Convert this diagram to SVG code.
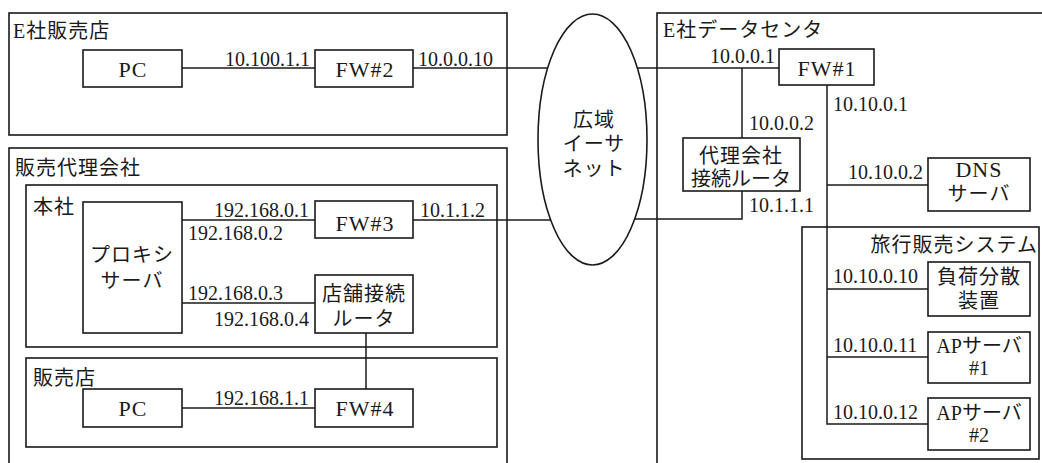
<svg xmlns="http://www.w3.org/2000/svg" width="1042" height="463" viewBox="0 0 1042 463">
<style>
text{font-family:"Liberation Serif","Noto Sans CJK JP",serif;font-size:20px;fill:#1a1a1a}
.c{text-anchor:middle}
.e{text-anchor:end}
.j{letter-spacing:1px}
.L{font-size:22px;letter-spacing:1px}
.box{fill:#fff;stroke:#1a1a1a;stroke-width:1.6}
.area{fill:none;stroke:#1a1a1a;stroke-width:1.6}
.ln{fill:none;stroke:#1a1a1a;stroke-width:1.5}
</style>
<rect width="1042" height="463" fill="#fff"/>
<g id="area-e-shop">
<rect class="area" x="9" y="13" width="498" height="122"/>
<text x="13" y="38" class="j">E社販売店</text>
</g>
<g id="area-agency">
<rect class="area" x="9" y="148" width="498" height="330"/>
<text x="15" y="175" class="j">販売代理会社</text>
</g>
<g id="area-hq">
<rect class="area" x="26" y="185" width="471" height="162"/>
<text x="33" y="214" class="j">本社</text>
</g>
<g id="area-store">
<rect class="area" x="26" y="358" width="471" height="89"/>
<text x="33" y="385" class="j">販売店</text>
</g>
<g id="area-dc">
<rect class="area" x="657" y="13" width="400" height="470"/>
<text x="663" y="37" class="j">E社データセンタ</text>
</g>
<g id="area-travel">
<rect class="area" x="802" y="227" width="237" height="232"/>
<text x="1038" y="252" class="e j">旅行販売システム</text>
</g>
<g id="connectors">
<path class="ln" d="M182 68H315"/>
<path class="ln" d="M413 68H560"/>
<path class="ln" d="M625 68H779"/>
<path class="ln" d="M742 68V138"/>
<path class="ln" d="M182 220H315"/>
<path class="ln" d="M413 220H560"/>
<path class="ln" d="M625 219H742V191"/>
<path class="ln" d="M182 303H315"/>
<path class="ln" d="M366 333V389"/>
<path class="ln" d="M182 408H315"/>
<path class="ln" d="M827 85V424H928"/>
<path class="ln" d="M827 185H928"/>
<path class="ln" d="M827 289H928"/>
<path class="ln" d="M827 357H928"/>
<text x="310" y="66" class="e">10.100.1.1</text>
<text x="418" y="66">10.0.0.10</text>
<text x="309" y="217" class="e">192.168.0.1</text>
<text x="188" y="240">192.168.0.2</text>
<text x="420" y="217">10.1.1.2</text>
<text x="188" y="300">192.168.0.3</text>
<text x="309" y="326" class="e">192.168.0.4</text>
<text x="309" y="405" class="e">192.168.1.1</text>
<text x="775" y="63" class="e">10.0.0.1</text>
<text x="749" y="130">10.0.0.2</text>
<text x="749" y="212">10.1.1.1</text>
<text x="833" y="111">10.10.0.1</text>
<text x="923" y="179" class="e">10.10.0.2</text>
<text x="833" y="283">10.10.0.10</text>
<text x="833" y="352">10.10.0.11</text>
<text x="833" y="419">10.10.0.12</text>
</g>
<g id="wan">
<ellipse class="box" cx="592.5" cy="139.5" rx="54.5" ry="125.5"/>
<text x="594" y="127" class="c j">広域</text>
<text x="594" y="151" class="c j">イーサ</text>
<text x="594" y="176" class="c j">ネット</text>
</g>
<g id="pc-eshop">
<rect class="box" x="83" y="50" width="99" height="37"/>
<text x="133" y="77" class="c L" letter-spacing="4">PC</text>
</g>
<g id="fw2">
<rect class="box" x="315" y="50" width="98" height="37"/>
<text x="365" y="77" class="c L">FW#2</text>
</g>
<g id="proxy">
<rect class="box" x="83" y="202" width="99" height="131"/>
<text x="132" y="262" class="c j">プロキシ</text>
<text x="132" y="288" class="c j">サーバ</text>
</g>
<g id="fw3">
<rect class="box" x="315" y="201" width="98" height="37"/>
<text x="365" y="231" class="c L">FW#3</text>
</g>
<g id="store-router">
<rect class="box" x="315" y="275" width="98" height="58"/>
<text x="364" y="301" class="c j">店舗接続</text>
<text x="364" y="326" class="c j">ルータ</text>
</g>
<g id="pc-store">
<rect class="box" x="83" y="389" width="99" height="38"/>
<text x="133" y="416" class="c L" letter-spacing="4">PC</text>
</g>
<g id="fw4">
<rect class="box" x="315" y="389" width="98" height="38"/>
<text x="365" y="416" class="c L">FW#4</text>
</g>
<g id="fw1">
<rect class="box" x="779" y="49" width="95" height="36"/>
<text x="827" y="76" class="c L">FW#1</text>
</g>
<g id="agency-router">
<rect class="box" x="683" y="138" width="117" height="53"/>
<text x="741" y="163" class="c j">代理会社</text>
<text x="741" y="186" class="c">接続ルータ</text>
</g>
<g id="dns">
<rect class="box" x="928" y="158" width="102" height="53"/>
<text x="979" y="177" class="c L">DNS</text>
<text x="979" y="201" class="c j">サーバ</text>
</g>
<g id="lb">
<rect class="box" x="928" y="262" width="102" height="54"/>
<text x="979" y="284" class="c j">負荷分散</text>
<text x="979" y="308" class="c j">装置</text>
</g>
<g id="ap1">
<rect class="box" x="928" y="332" width="102" height="51"/>
<text x="979" y="353" class="c">APサーバ</text>
<text x="979" y="375" class="c">#1</text>
</g>
<g id="ap2">
<rect class="box" x="928" y="398" width="102" height="52"/>
<text x="979" y="420" class="c">APサーバ</text>
<text x="979" y="442" class="c">#2</text>
</g>
</svg>
